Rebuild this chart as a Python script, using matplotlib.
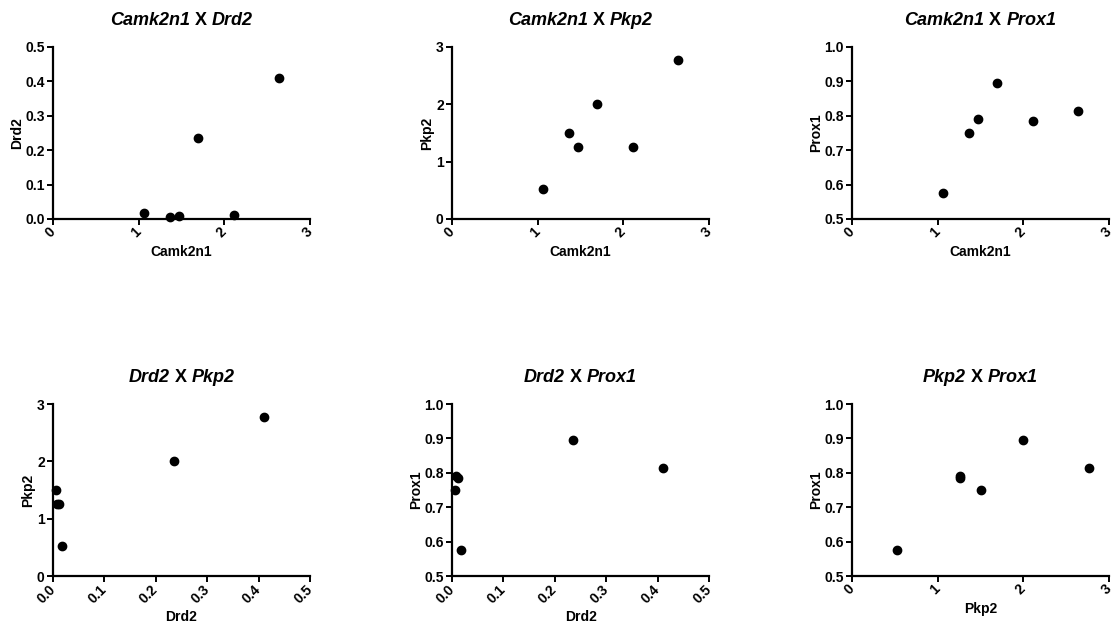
import matplotlib
matplotlib.use("Agg")
import matplotlib.pyplot as plt

plt.rcParams['font.family'] = ['Liberation Sans', 'DejaVu Sans']
plt.rcParams['font.weight'] = 'bold'

# expression values per sample
camk2n1 = [1.06, 1.37, 1.47, 1.69, 2.11, 2.64]
drd2 = [0.018, 0.005, 0.008, 0.236, 0.011, 0.411]
pkp2 = [0.53, 1.50, 1.26, 2.00, 1.26, 2.77]
prox1 = [0.575, 0.749, 0.791, 0.894, 0.784, 0.814]

genes = {"Camk2n1": camk2n1, "Drd2": drd2, "Pkp2": pkp2, "Prox1": prox1}
limits = {
    "Camk2n1": (0, 3, [0, 1, 2, 3], ["0", "1", "2", "3"]),
    "Pkp2": (0, 3, [0, 1, 2, 3], ["0", "1", "2", "3"]),
    "Drd2": (0, 0.5, [0, 0.1, 0.2, 0.3, 0.4, 0.5],
             ["0.0", "0.1", "0.2", "0.3", "0.4", "0.5"]),
    "Prox1": (0.5, 1.0, [0.5, 0.6, 0.7, 0.8, 0.9, 1.0],
              ["0.5", "0.6", "0.7", "0.8", "0.9", "1.0"]),
}
pairs = [("Camk2n1", "Drd2"), ("Camk2n1", "Pkp2"), ("Camk2n1", "Prox1"),
         ("Drd2", "Pkp2"), ("Drd2", "Prox1"), ("Pkp2", "Prox1")]

W, H = 1118, 628
fig = plt.figure(figsize=(W / 100, H / 100), dpi=100)
renderer = fig.canvas.get_renderer()

lefts = [53, 452, 852]
tops = [47, 404]
aw, ah = 257, 172

for i, (gx, gy) in enumerate(pairs):
    r, c = divmod(i, 3)
    ax = fig.add_axes([lefts[c] / W, 1 - (tops[r] + ah) / H, aw / W, ah / H])
    ax.scatter(genes[gx], genes[gy], s=36, color='black', zorder=3,
               clip_on=False)
    x0, x1, xt, xl = limits[gx]
    y0, y1, yt, yl = limits[gy]
    ax.set_xlim(x0, x1)
    ax.set_ylim(y0, y1)
    ax.set_xticks(xt)
    ax.set_xticklabels(xl, rotation=45, ha='right', va='center',
                       rotation_mode='anchor', fontsize=10, fontweight='bold')
    ax.set_yticks(yt)
    ax.set_yticklabels(yl, fontsize=10, fontweight='bold')
    for s in ['top', 'right']:
        ax.spines[s].set_visible(False)
    for s in ['left', 'bottom']:
        ax.spines[s].set_linewidth(1.6)
    ax.tick_params(direction='out', length=4, width=1.4, pad=2)
    ax.tick_params(axis='x', pad=4)
    ax.set_xlabel(gx, fontsize=10, fontweight='bold', labelpad=3)
    ax.set_ylabel(gy, fontsize=10, fontweight='bold', labelpad=1)

    # title: gene names italic, the "X" upright, placed piece by piece
    pieces = [(gx, 'italic'), (" X ", 'normal'), (gy, 'italic')]
    cx = (lefts[c] + aw / 2)
    base_y = H - (tops[r] - 22)
    widths = []
    for txt, st in pieces:
        t = fig.text(0, 0, txt, fontsize=13, fontweight='bold', style=st)
        widths.append(t.get_window_extent(renderer).width)
        t.remove()
    x = cx - sum(widths) / 2
    for (txt, st), w in zip(pieces, widths):
        fig.text(x / W, base_y / H, txt, fontsize=13, fontweight='bold',
                 style=st, ha='left', va='baseline')
        x += w

fig.savefig("out.png", dpi=100)
